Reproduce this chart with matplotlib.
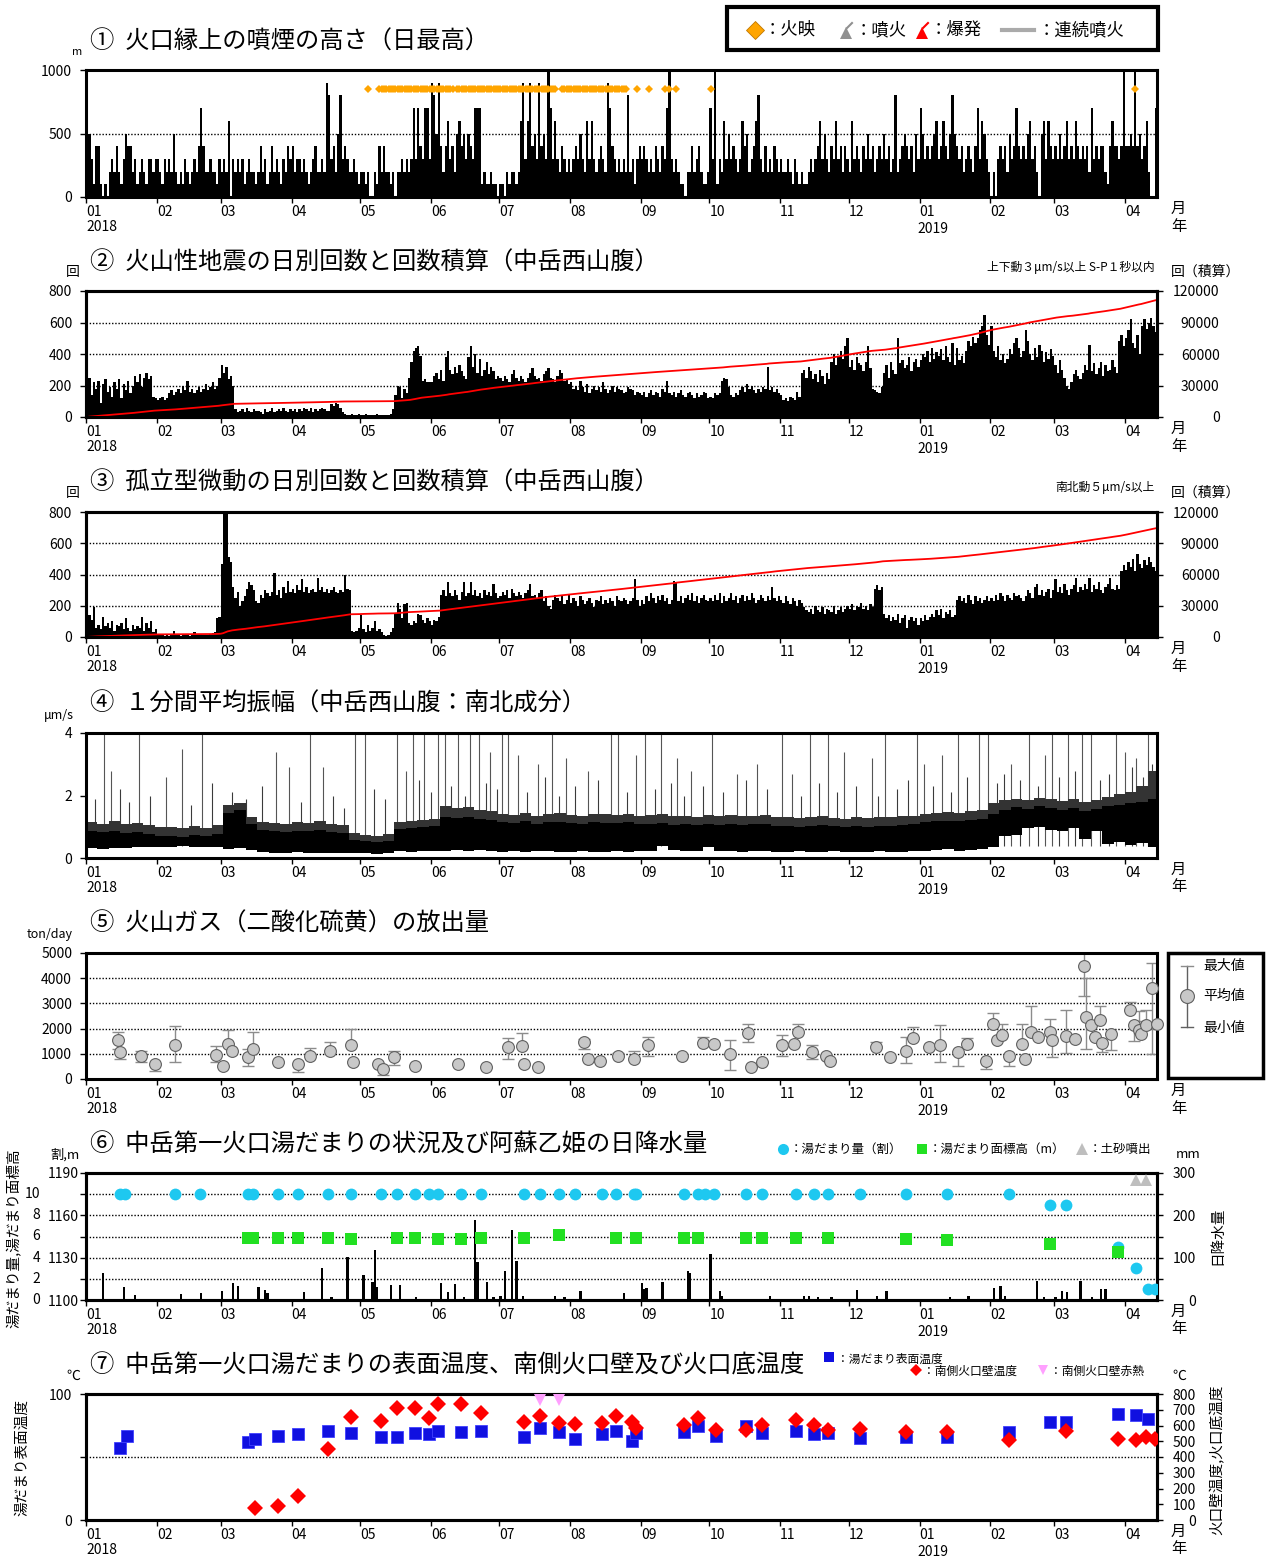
import numpy as np
import matplotlib
matplotlib.use("Agg")
import matplotlib.pyplot as plt
from matplotlib.lines import Line2D
from matplotlib.patches import Rectangle

plt.rcParams['font.family'] = ['Noto Sans CJK JP', 'DejaVu Sans']

W, H = 1272, 1559
PX_LEFT, PX_RIGHT = 86, 1157

# 横軸: 2018-01-01 からの日数
month_start = [0, 31, 59, 90, 120, 151, 181, 212, 243, 273, 304, 334, 365, 396, 424, 455]
month_label = ['01', '02', '03', '04', '05', '06', '07', '08', '09', '10', '11', '12',
               '01', '02', '03', '04']
x_end = 469

# ① 噴煙の高さ（日最高）: 1文字 = 1日, 数字 x 100 m, X = 1000 m 以上
plume_code = [
    "3531441010232421354423123213323",  # 2018-01
    "3213232521213212324742232213",     # 02
    "2326032323123221242312423213243",  # 03
    "423323212342232983425834322321",   # 04
    "2212002142422120223232373743773",  # 05
    "985942463425645354377712112110",   # 06
    "110212212693694539453X736324323",  # 07
    "2343532636323432974323232823134",  # 08
    "343232432437X32321102242342112",   # 09
    "73X1326353432364523468324232432",  # 10
    "322321321211232346353243634243",   # 11
    "2634324353423435342382345434253",  # 12
    "7534345634643585434234324736532",  # 2019-01
    "0203434253474343563420563643",     # 02
    "435346343643434273434421464434X",  # 03
    "4454X4534620076",                  # 04
]
# 火映を観測した日（開始日, 終了日）
glow_ranges = [(123, 123), (128, 160), (162, 205), (208, 236), (241, 241), (246, 246),
               (253, 253), (255, 255), (258, 258), (273, 273), (459, 459)]

# ② 火山性地震 日別回数（10回単位）
quake_tens = [
    20, 25, 14, 22, 18, 23, 9, 21, 24, 16, 19, 13, 22, 18, 24, 12, 21, 17, 23, 15, 20, 26, 22, 27, 19, 25, 28, 24, 26, 13, 12,
    11, 12, 13, 11, 12, 15, 17, 14, 16, 18, 15, 20, 17, 23, 16, 18, 15, 17, 19, 16, 18, 21, 17, 19, 22, 18, 20, 25,
    33, 28, 32, 24, 26, 20, 5, 3, 4, 5, 3, 6, 4, 3, 5, 4, 4, 3, 2, 5, 3, 4, 6, 3, 4, 5, 4, 6, 4, 3, 5,
    4, 5, 3, 5, 4, 6, 5, 4, 6, 3, 5, 4, 5, 6, 5, 4, 4, 8, 7, 9, 8, 6, 3, 2, 1, 1, 2, 1, 1, 2,
    1, 1, 2, 1, 1, 1, 1, 2, 1, 1, 1, 1, 1, 2, 5, 14, 20, 19, 12, 18, 15, 25, 35, 42, 44, 45, 39, 23, 24, 22, 22,
    22, 26, 28, 24, 30, 23, 38, 42, 30, 27, 32, 28, 33, 29, 26, 24, 38, 45, 32, 40, 28, 37, 26, 30, 35, 27, 32, 29, 24, 26,
    25, 23, 26, 24, 22, 27, 30, 25, 23, 26, 24, 22, 25, 28, 31, 26, 24, 25, 23, 27, 29, 31, 25, 24, 22, 26, 30, 28, 23, 24, 21,
    22, 18, 20, 17, 23, 19, 16, 21, 15, 18, 20, 17, 19, 16, 22, 18, 15, 17, 20, 16, 19, 18, 17, 15, 16, 19, 18, 17, 14, 16, 15,
    14, 16, 13, 15, 17, 14, 16, 15, 13, 18, 16, 23, 15, 14, 16, 13, 15, 17, 14, 13, 15, 16, 14, 12, 15, 13, 14, 16, 15, 12,
    13, 12, 15, 14, 15, 23, 25, 24, 19, 14, 13, 15, 14, 17, 19, 16, 21, 18, 20, 17, 15, 18, 16, 19, 18, 32, 17, 19, 16, 18, 15,
    14, 11, 12, 10, 13, 12, 11, 16, 13, 28, 30, 25, 32, 29, 24, 27, 22, 30, 26, 21, 28, 24, 35, 40, 33, 38, 42, 37, 45, 50,
    32, 36, 30, 38, 34, 33, 29, 35, 45, 31, 18, 17, 16, 15, 19, 28, 33, 25, 35, 30, 27, 50, 34, 36, 31, 33, 38, 29, 35, 37, 32,
    36, 40, 38, 42, 35, 44, 37, 41, 39, 43, 36, 45, 38, 35, 47, 33, 44, 36, 39, 34, 42, 48, 45, 51, 47, 50, 55, 58, 65, 52, 46,
    58, 42, 38, 45, 36, 40, 34, 37, 43, 40, 47, 50, 44, 38, 42, 55, 48, 40, 36, 44, 38, 46, 42, 35, 41, 37, 43, 39,
    33, 28, 36, 30, 25, 20, 18, 22, 27, 30, 26, 24, 28, 33, 30, 46, 29, 34, 27, 31, 35, 26, 33, 29, 30, 36, 32, 28, 48, 52, 45,
    50, 55, 62, 47, 44, 52, 40, 58, 62, 56, 60, 63, 58, 54, 45,
]

# ③ 孤立型微動 日別回数
tremor = [
    120, 140, 110, 190, 60, 80, 50, 130, 70, 90, 60, 100, 40, 80, 70, 90, 50, 120, 60, 40, 80, 50, 70, 60, 130, 40, 90, 60, 100, 30, 50,
    20, 10, 15, 5, 10, 5, 15, 40, 20, 10, 5, 10, 15, 10, 5, 10, 30, 15, 10, 20, 15, 10, 15, 20, 25, 30, 120, 130,
    470, 900, 850, 510, 480, 320, 250, 290, 200, 230, 260, 310, 350, 330, 300, 230, 220, 270, 250, 300, 280, 260, 290, 410, 270, 300, 250, 320, 280, 360, 290,
    310, 280, 330, 300, 370, 290, 320, 280, 300, 310, 290, 380, 300, 320, 290, 310, 280, 300, 320, 290, 280, 300, 290, 400, 310, 300, 40, 30, 40, 60,
    140, 50, 30, 80, 40, 60, 100, 40, 50, 30, 10, 5, 10, 30, 60, 150, 220, 180, 120, 210, 220, 90, 80, 100, 90, 150, 140, 110, 90, 120, 100,
    80, 110, 100, 130, 270, 300, 260, 350, 280, 260, 300, 270, 240, 290, 350, 260, 280, 350, 270, 300, 260, 280, 250, 300, 270, 290, 260, 340, 280, 250,
    260, 290, 270, 300, 250, 310, 280, 260, 290, 270, 250, 280, 300, 340, 260, 270, 250, 280, 300, 230, 260, 200, 180, 240, 270, 250, 230, 260, 210, 240, 270,
    220, 250, 230, 200, 260, 240, 210, 230, 250, 220, 190, 240, 230, 260, 210, 240, 220, 250, 230, 200, 260, 240, 230, 250, 240, 210, 230, 250, 370, 240, 200,
    240, 210, 260, 230, 280, 250, 220, 260, 240, 270, 230, 250, 210, 240, 360, 350, 230, 260, 220, 250, 270, 240, 280, 230, 260, 220, 250, 270, 240, 230,
    250, 230, 270, 240, 280, 220, 260, 230, 250, 280, 240, 260, 220, 250, 270, 230, 260, 240, 280, 250, 220, 240, 270, 250, 230, 260, 240, 320, 250, 230, 260,
    240, 220, 260, 230, 210, 250, 230, 200, 240, 220, 190, 170, 160, 180, 150, 200, 170, 160, 190, 150, 180, 170, 160, 200, 150, 170, 190, 160, 180, 200,
    180, 210, 170, 200, 190, 220, 180, 200, 170, 210, 190, 310, 330, 300, 320, 150, 120, 140, 100, 130, 110, 150, 90, 120, 140, 60, 110, 130, 100, 120, 80,
    120, 100, 140, 110, 130, 150, 130, 170, 140, 180, 120, 160, 150, 170, 130, 140, 240, 260, 230, 250, 220, 270, 240, 210, 260, 230, 250, 220, 240, 260, 230,
    250, 230, 270, 240, 280, 260, 230, 270, 250, 240, 280, 260, 270, 250, 230, 260, 300, 280, 250, 320, 340, 270, 300, 260, 290, 310, 250, 300,
    370, 290, 320, 280, 340, 300, 270, 310, 330, 380, 290, 320, 300, 340, 310, 380, 290, 330, 310, 350, 300, 280, 320, 340, 380, 310, 300, 330, 310, 420, 460,
    430, 480, 450, 500, 420, 530, 470, 440, 490, 460, 510, 480, 450, 420, 440,
]

# ④ 1分間平均振幅: 5日ごとの帯（下端・濃い上端・薄い上端, μm/s）と突発的な振幅
amp_low = [0.32, 0.30, 0.33, 0.31, 0.34, 0.35,
           0.36, 0.35, 0.37, 0.34, 0.36, 0.35,
           0.30, 0.31, 0.25, 0.20,
           0.17, 0.16, 0.18, 0.16, 0.17, 0.15, 0.16,
           0.16, 0.15, 0.14, 0.17,
           0.22, 0.20, 0.23, 0.22,
           0.24, 0.25, 0.23, 0.26, 0.24,
           0.20, 0.22, 0.19, 0.21, 0.23, 0.20, 0.18, 0.22, 0.20, 0.19, 0.21, 0.20,
           0.22, 0.21, 0.40, 0.25, 0.22, 0.24, 0.35, 0.23, 0.21, 0.20, 0.22, 0.21,
           0.20, 0.19, 0.21, 0.18, 0.20, 0.22, 0.19, 0.18, 0.20, 0.21, 0.19, 0.20, 0.22,
           0.22, 0.25, 0.28, 0.24, 0.27, 0.30,
           0.35, 0.70, 0.75, 0.95, 1.00, 0.90,
           0.85, 0.95, 0.62, 0.88,
           0.45, 0.50, 0.42, 0.48, 0.35]
amp_top = [0.86, 0.82, 0.88, 0.80, 0.84, 0.78,
           0.70, 0.72, 0.68, 0.74, 0.70, 0.76,
           1.45, 1.55, 1.08, 0.90,
           0.86, 0.84, 0.88, 0.86, 0.90, 0.84, 0.80,
           0.58, 0.54, 0.52, 0.56,
           0.92, 0.97, 1.00, 1.02,
           1.30, 1.28, 1.32, 1.26, 1.22,
           1.15, 1.12, 1.18, 1.10, 1.14, 1.16, 1.12, 1.10, 1.15, 1.13, 1.11, 1.14,
           1.08, 1.10, 1.12, 1.06, 1.08, 1.05, 1.10, 1.07, 1.09, 1.06, 1.08, 1.10,
           1.02, 1.04, 1.00, 1.03, 1.05, 1.01, 0.98, 1.02, 1.00, 1.04, 1.03, 1.06, 1.08,
           1.15, 1.18, 1.20, 1.17, 1.22, 1.25,
           1.40, 1.55, 1.62, 1.58, 1.66, 1.60,
           1.55, 1.60, 1.52, 1.58,
           1.65, 1.70, 1.75, 1.80, 1.90]
amp_noise = [1.15, 1.10, 1.18, 1.08, 1.12, 1.05,
             0.98, 1.00, 0.95, 1.02, 0.97, 1.05,
             1.70, 1.75, 1.30, 1.15,
             1.12, 1.10, 1.15, 1.13, 1.18, 1.10, 1.05,
             0.80, 0.75, 0.72, 0.78,
             1.15, 1.20, 1.22, 1.25,
             1.65, 1.60, 1.62, 1.55, 1.50,
             1.42, 1.38, 1.45, 1.35, 1.40, 1.43, 1.38, 1.36, 1.42, 1.40, 1.37, 1.40,
             1.35, 1.38, 1.40, 1.33, 1.36, 1.32, 1.38, 1.34, 1.37, 1.33, 1.35, 1.38,
             1.30, 1.32, 1.28, 1.31, 1.33, 1.29, 1.26, 1.30, 1.28, 1.32, 1.31, 1.34, 1.36,
             1.42, 1.45, 1.48, 1.44, 1.50, 1.55,
             1.75, 1.85, 1.90, 1.86, 1.92, 1.88,
             1.82, 1.88, 1.80, 1.85,
             1.95, 2.05, 2.10, 2.30, 2.80]
spike_day = [8, 11, 23, 35, 42, 51, 83, 89, 98, 104, 118, 122, 136, 140, 143, 148, 154, 157, 163, 168,
             172, 177, 182, 185, 189, 198, 204, 210, 220, 230, 233, 241, 245, 252, 259, 265, 274, 285, 294,
             305, 309, 317, 325, 332, 344, 350, 364, 367, 375, 382, 391, 395, 405, 413, 420, 423, 430, 436,
             440, 451, 455, 460, 465]
spike_amp = [4.5, 2.8, 4.5, 2.6, 3.5, 4.5, 3.4, 2.9, 4.5, 2.9, 4.5, 4.5, 4.5, 2.8, 4.5, 4.5, 4.5, 4.5, 4.5, 4.5,
             4.5, 3.4, 4.5, 4.5, 3.3, 3.0, 4.5, 3.2, 2.8, 4.5, 4.5, 3.3, 4.5, 4.5, 3.2, 2.8, 4.5, 2.7, 3.0,
             4.5, 2.7, 4.5, 4.5, 3.4, 3.2, 4.5, 4.5, 3.0, 3.3, 4.5, 4.5, 4.5, 3.0, 4.5, 3.3, 4.5, 4.5, 4.5,
             4.5, 4.5, 3.4, 3.2, 4.5]
# 中程度の突発振幅
bump_day = [4, 15, 19, 28, 46, 55, 64, 70, 77, 94, 108, 113, 126, 131, 146, 151, 160, 166, 175, 180,
            193, 201, 207, 214, 224, 237, 249, 256, 262, 270, 279, 289, 298, 313, 321, 329, 337, 347,
            355, 360, 371, 379, 386, 399, 402, 409, 417, 426, 433, 444, 448, 458, 463, 467]
bump_amp = [1.9, 2.2, 1.8, 2.0, 1.7, 2.4, 2.1, 1.9, 2.3, 1.8, 2.0, 1.6, 2.2, 1.9, 2.5, 2.1, 2.3, 2.0, 2.4, 2.2,
            2.1, 2.6, 2.0, 2.3, 2.5, 2.1, 2.2, 2.4, 2.0, 2.3, 2.1, 2.5, 2.2, 2.0, 2.4, 2.1, 2.3, 2.0,
            2.2, 2.5, 2.3, 2.1, 2.6, 2.4, 2.7, 2.5, 2.3, 2.6, 2.8, 2.5, 2.7, 2.9, 2.6, 3.0]

# ⑤ 二酸化硫黄放出量 (ton/day): 平均値・最大値・最小値（None は幅なし）
so2_day = [14, 15, 24, 30, 39, 57, 60, 62, 64, 71, 73, 84, 93, 98, 107, 116, 117, 128, 130, 135,
           144, 163, 175, 185, 191, 192, 198, 218, 220, 225, 233, 240, 246, 261, 270, 275, 282, 290,
           291, 296, 305, 310, 312, 318, 324, 326, 346, 352, 359, 362, 369, 374, 382, 386, 394, 397,
           399, 401, 404, 410, 411, 414, 417, 422, 423, 429, 433, 437, 438, 440, 442, 444, 445, 449,
           457, 459, 461, 462, 464, 467, 469]
so2_mean = [1530, 1070, 900, 600, 1330, 970, 500, 1400, 1130, 870, 1200, 670, 600, 930, 1130, 1330, 670, 600, 400, 870,
            530, 600, 470, 1270, 1300, 600, 470, 1470, 800, 730, 930, 800, 1330, 900, 1430, 1370, 1000, 1830,
            470, 670, 1330, 1370, 1870, 1070, 930, 730, 1270, 870, 1130, 1640, 1270, 1330, 1070, 1370, 730, 2200,
            1530, 1730, 900, 1400, 800, 1870, 1670, 1870, 1530, 1700, 1600, 4500, 2470, 2130, 1670, 2360, 1430, 1770,
            2730, 2130, 1930, 1800, 2130, 3600, 2200]
so2_max = [1870, None, 1130, None, 2100, 1300, None, 1930, None, 1200, 1870, None, None, 1240, 1470, 1970, None, None, None, 1110,
           None, None, None, 1630, 1830, None, None, 1600, None, None, 1050, 1100, 1670, None, 1670, None, 1530, 2200,
           None, None, 1760, None, 2200, 1330, None, None, 1470, None, 1670, 2070, None, 2130, None, 1630, None, 2600,
           None, 2200, None, 2170, None, 2900, None, 2400, None, 2730, None, 5000, 4000, None, None, 2900, None, None,
           3050, None, 2700, 2300, 2750, 4600, None]
so2_min = [1200, 800, 670, 330, 670, 670, None, None, None, 530, None, None, 270, None, None, None, None, None, 170, 570,
           None, None, None, 800, None, None, None, 1200, None, None, None, None, 900, None, None, None, 360, 1470,
           None, None, 900, None, None, 800, None, None, None, None, 630, None, None, 670, 530, None, 400, None,
           None, None, 500, None, None, None, None, None, 870, 1050, None, 3300, 1200, None, None, None, 1070, 1150,
           None, 1500, None, None, None, 1000, None]

# ⑥ 湯だまり量（割）・湯だまり面標高（m）・日降水量（mm）
pool_day = [15, 17, 39, 50, 71, 73, 84, 93, 106, 116, 129, 136, 144, 150, 154, 164, 173, 192, 199, 207,
            214, 226, 232, 240, 241, 262, 268, 271, 275, 289, 296, 311, 319, 325, 339, 359, 377, 404,
            422, 429, 452, 460, 465, 468]
pool_wari = [10, 10, 10, 10, 10, 10, 10, 10, 10, 10, 10, 10, 10, 10, 10, 10, 10, 10, 10, 10,
             10, 10, 10, 10, 10, 10, 10, 10, 10, 10, 10, 10, 10, 10, 10, 10, 10, 10,
             9, 9, 5, 3, 1, 1]
level_day = [71, 73, 84, 93, 106, 116, 136, 144, 154, 164, 173, 192, 207, 232, 241, 262, 268, 289,
             296, 311, 325, 359, 377, 422, 452]
level_m = [1144, 1144, 1144, 1144, 1144, 1143, 1144, 1144, 1143, 1143, 1144, 1144, 1146, 1144, 1144,
           1144, 1144, 1144, 1144, 1144, 1144, 1143.5, 1142.5, 1140, 1134]
mud_day = [460, 464]
rain_day = [7, 16, 21, 41, 50, 59, 64, 66, 75, 78, 79, 95, 103, 107, 114, 121, 125, 126, 127, 133,
            137, 144, 155, 158, 161, 165, 170, 171, 175, 178, 181, 183, 186, 188, 191, 205, 209, 216, 235, 243,
            244, 245, 252, 263, 264, 273, 277, 278, 299, 314, 316, 320, 326, 337, 346, 350, 378, 386, 397, 400,
            402, 416, 419, 424, 427, 429, 435, 440, 444, 446]
rain_mm = [63, 30, 12, 13, 16, 22, 39, 32, 30, 24, 16, 20, 76, 8, 101, 58, 43, 117, 30, 36,
           36, 6, 39, 18, 38, 8, 188, 89, 42, 6, 10, 69, 166, 93, 10, 10, 6, 22, 17, 39,
           26, 28, 42, 68, 64, 109, 22, 10, 10, 10, 10, 6, 6, 24, 10, 22, 6, 10, 28, 34,
           10, 46, 6, 8, 22, 20, 44, 6, 26, 26]

# ⑦ 湯だまり表面温度（℃）・南側火口壁温度（℃）・赤熱
surf_day = [15, 18, 71, 74, 84, 93, 106, 116, 129, 136, 144, 150, 154, 164, 173, 192, 199, 207, 214, 226,
            232, 239, 241, 262, 268, 276, 289, 296, 311, 319, 325, 339, 359, 377, 404, 422, 429, 452, 460, 465]
surf_temp = [57, 67, 62, 64, 67, 68, 71, 69, 66, 66, 69, 68, 71, 70, 71, 66, 73, 70, 64, 68,
             71, 63, 69, 70, 75, 67, 75, 69, 71, 68, 69, 65, 66, 66, 70, 78, 78, 84, 83, 80]
wall_day = [74, 84, 93, 106, 116, 129, 136, 144, 150, 154, 164, 173, 192, 199, 207, 214, 226, 232, 239,
            241, 262, 268, 276, 289, 296, 311, 319, 325, 339, 359, 377, 404, 429, 452, 460, 464, 468]
wall_temp = [79, 90, 154, 449, 652, 629, 710, 714, 650, 736, 736, 678, 620, 663, 614, 607, 614, 661, 620,
             586, 603, 646, 571, 571, 603, 635, 603, 571, 578, 556, 556, 507, 565, 513, 507, 528, 513]
glowwall_day = [199, 207]

fig = plt.figure(figsize=(W / 100, H / 100), dpi=100)


def fpos(x, y):
    return x / W, 1 - y / H


def ftext(x, y, s, **kw):
    fx, fy = fpos(x, y)
    fig.text(fx, fy, s, **kw)


def fmark(x, y, **kw):
    fx, fy = fpos(x, y)
    fig.add_artist(Line2D([fx], [fy], transform=fig.transFigure, **kw))


def fline(xs, ys, **kw):
    p = [fpos(a, b) for a, b in zip(xs, ys)]
    fig.add_artist(Line2D([q[0] for q in p], [q[1] for q in p], transform=fig.transFigure, **kw))


def fbox(x0, y0, x1, y1, lw=2.5):
    fx, fy = fpos(x0, y1)
    fig.add_artist(Rectangle((fx, fy), (x1 - x0) / W, (y1 - y0) / H, transform=fig.transFigure,
                             fill=False, lw=lw, ec='k'))


def dotted(ax, vals):
    for v in vals:
        ax.axhline(v, color='k', ls=(0, (1, 1.3)), lw=1.0, zorder=0.5)


TICK = 10


def make_ax(top, bottom, ypad=6):
    ax = fig.add_axes([PX_LEFT / W, 1 - bottom / H, (PX_RIGHT - PX_LEFT) / W, (bottom - top) / H])
    ax.set_xlim(0, x_end)
    ax.set_xticks(month_start)
    ax.set_xticklabels(month_label, ha='left')
    ax.tick_params(axis='x', length=4, width=1, labelsize=TICK, pad=1.5)
    ax.tick_params(axis='y', length=4, width=1, labelsize=TICK, pad=ypad)
    for sp in ax.spines.values():
        sp.set_linewidth(2.2)
    ax.annotate('2018', xy=(0, 0), xycoords=('data', 'axes fraction'), xytext=(0, -30),
                textcoords='offset pixels', fontsize=TICK, va='center', ha='left')
    ax.annotate('2019', xy=(365, 0), xycoords=('data', 'axes fraction'), xytext=(-2, -32),
                textcoords='offset pixels', fontsize=TICK, va='center', ha='left')
    ax.annotate('月', xy=(1, 0), xycoords='axes fraction', xytext=(14, -11),
                textcoords='offset pixels', fontsize=11, va='center', ha='left')
    ax.annotate('年', xy=(1, 0), xycoords='axes fraction', xytext=(14, -29),
                textcoords='offset pixels', fontsize=11, va='center', ha='left')
    return ax


def right_axis(ax, ylim, ticks, pad):
    axr = ax.twinx()
    axr.set_ylim(*ylim)
    axr.set_yticks(ticks)
    axr.tick_params(axis='y', length=4, width=1, labelsize=TICK, pad=pad)
    for lbl in axr.get_yticklabels():
        lbl.set_ha('right')
    for sp in axr.spines.values():
        sp.set_linewidth(2.2)
    return axr


TITLE = 17.5

# ---- ① 噴煙 ----
plume_m = [100 * (10 if c == 'X' else int(c)) for s in plume_code for c in s]
ax1 = make_ax(70, 197)
ax1.bar(np.arange(len(plume_m)), plume_m, width=1.0, align='edge', color='k', lw=0)
glow_days = [d for a, b in glow_ranges for d in range(a, b + 1)]
ax1.plot(np.array(glow_days) + 0.5, [850] * len(glow_days), 'D', color='#FFA500', ms=4.5, mew=0)
ax1.set_ylim(0, 1000)
ax1.set_yticks([0, 500, 1000])
dotted(ax1, [500])
ftext(90, 42, '①  火口縁上の噴煙の高さ（日最高）', fontsize=TITLE, va='center')
ftext(72, 52, 'm', fontsize=8, va='center')

fbox(727, 7, 1158, 50, lw=3)
fmark(755, 30, marker='D', color='#FFA500', ms=9, mec='#C07800', mew=0.6)
ftext(764, 30, '：火映', fontsize=12.5, va='center')
fmark(846, 33, marker='^', color='#909090', ms=8, mew=0)
fline([847, 852], [28, 23], color='#909090', lw=1.5)
ftext(855, 30, '：噴火', fontsize=12.5, va='center')
fmark(922, 33, marker='^', color='#FF0000', ms=8, mew=0)
fline([923, 928], [28, 23], color='#FF0000', lw=1.5)
ftext(930, 30, '：爆発', fontsize=12.5, va='center')
fline([1002, 1034], [30, 30], color='#AAAAAA', lw=3)
ftext(1038, 30, '：連続噴火', fontsize=12.5, va='center')

# ---- ② 火山性地震 ----
quake = np.array(quake_tens) * 10
ax2 = make_ax(291, 417)
ax2.bar(np.arange(len(quake)), quake, width=1.0, align='edge', color='k', lw=0)
ax2.set_ylim(0, 800)
ax2.set_yticks([0, 200, 400, 600, 800])
dotted(ax2, [200, 400, 600])
ax2r = right_axis(ax2, (0, 120000), [0, 30000, 60000, 90000, 120000], 41)
ax2r.plot(np.arange(len(quake)) + 1, np.cumsum(quake), color='#FF0000', lw=1.3)
ftext(90, 263, '②  火山性地震の日別回数と回数積算（中岳西山腹）', fontsize=TITLE, va='center')
ftext(66, 272, '回', fontsize=10, va='center')
ftext(1155, 267, '上下動３μm/s以上 S-P１秒以内', fontsize=8.5, va='center', ha='right')
ftext(1171, 272, '回（積算）', fontsize=10, va='center')

# ---- ③ 孤立型微動 ----
tr = np.array(tremor)
ax3 = make_ax(512, 637)
ax3.bar(np.arange(len(tr)), tr, width=1.0, align='edge', color='k', lw=0)
ax3.set_ylim(0, 800)
ax3.set_yticks([0, 200, 400, 600, 800])
dotted(ax3, [200, 400, 600])
ax3r = right_axis(ax3, (0, 120000), [0, 30000, 60000, 90000, 120000], 41)
ax3r.plot(np.arange(len(tr)) + 1, np.cumsum(tr), color='#FF0000', lw=1.3)
ftext(90, 483, '③  孤立型微動の日別回数と回数積算（中岳西山腹）', fontsize=TITLE, va='center')
ftext(66, 493, '回', fontsize=10, va='center')
ftext(1155, 487, '南北動５μm/s以上', fontsize=8.5, va='center', ha='right')
ftext(1171, 493, '回（積算）', fontsize=10, va='center')

# ---- ④ 1分間平均振幅 ----
ax4 = make_ax(733, 858)
edges = np.arange(0, 5 * len(amp_top) + 1, 5)
ax4.vlines(spike_day, 0.4, spike_amp, color='#555555', lw=0.8, zorder=1)
ax4.vlines(bump_day, 0.4, bump_amp, color='#3a3a3a', lw=0.8, zorder=1)
ax4.stairs(amp_noise, edges, baseline=amp_top, fill=True, color='#333333', zorder=2)
ax4.stairs(amp_top, edges, baseline=amp_low, fill=True, color='k', zorder=3)
ax4.set_ylim(0, 4)
ax4.set_yticks([0, 2, 4])
ftext(90, 704, '④  １分間平均振幅（中岳西山腹：南北成分）', fontsize=TITLE, va='center')
ftext(44, 715, 'μm/s', fontsize=9, va='center')

# ---- ⑤ 火山ガス ----
ax5 = make_ax(953, 1079)
m = np.array(so2_mean, float)
hi = np.array([v if v is not None else mm for v, mm in zip(so2_max, so2_mean)], float)
lo = np.array([v if v is not None else mm for v, mm in zip(so2_min, so2_mean)], float)
ax5.errorbar(so2_day, m, yerr=[m - lo, hi - m], fmt='none', ecolor='#8c8c8c', elinewidth=1,
             capsize=4, capthick=1, zorder=2)
ax5.plot(so2_day, m, 'o', mfc='#C8C8C8', mec='#606060', mew=0.8, ms=8.5, zorder=3, clip_on=False)
ax5.set_ylim(0, 5000)
ax5.set_yticks([0, 1000, 2000, 3000, 4000, 5000])
dotted(ax5, [1000, 2000, 3000, 4000])
ftext(90, 924, '⑤  火山ガス（二酸化硫黄）の放出量', fontsize=TITLE, va='center')
ftext(27, 934, 'ton/day', fontsize=9, va='center')
fbox(1168, 953, 1263, 1078, lw=2.5)
fline([1187, 1187], [966, 1027], color='#606060', lw=1)
fline([1181, 1193], [966, 966], color='#8c8c8c', lw=1)
fline([1181, 1193], [1027, 1027], color='#606060', lw=1)
fmark(1187, 996, marker='o', mfc='#C8C8C8', mec='#606060', mew=0.8, ms=10)
ftext(1203, 966, '最大値', fontsize=10, va='center')
ftext(1203, 996, '平均値', fontsize=10, va='center')
ftext(1203, 1028, '最小値', fontsize=10, va='center')

# ---- ⑥ 湯だまり ----
ax6 = make_ax(1173, 1300, ypad=1.5)
ax6r = right_axis(ax6, (0, 300), [0, 100, 200, 300], 24)
ax6r.set_yticks([50, 150, 250], minor=True)
ax6r.tick_params(axis='y', which='minor', length=4, width=1)
ax6r.bar(rain_day, rain_mm, width=1.0, align='edge', color='k', lw=0)
ax6.set_zorder(ax6r.get_zorder() + 1)
ax6.patch.set_visible(False)
ax6.set_ylim(1100, 1190)
ax6.set_yticks([1100, 1130, 1160, 1190])
ax6.set_yticks([1115, 1145, 1175], minor=True)
ax6.tick_params(axis='y', which='minor', length=4, width=1)
dotted(ax6, [1115, 1130, 1145, 1160, 1175])
for k in [0, 2, 4, 6, 8, 10]:
    ax6.annotate(str(k), xy=(0, 1100 + 7.5 * k), xycoords=('axes fraction', 'data'),
                 xytext=(-46, 0), textcoords='offset pixels', fontsize=TICK, va='center', ha='right')
ax6.plot(pool_day, 1100 + 7.5 * np.array(pool_wari), 'o', color='#1EC8F0', ms=8.5, mew=0, zorder=4)
ax6.plot(level_day, level_m, 's', color='#22E022', ms=8, mew=0, zorder=5)
ax6.plot(mud_day, [1185] * len(mud_day), '^', color='#BEBEBE', ms=8, mew=0, zorder=5)
ftext(90, 1145, '⑥  中岳第一火口湯だまりの状況及び阿蘇乙姫の日降水量', fontsize=TITLE, va='center')
ftext(50, 1155, '割,m', fontsize=9.5, va='center')
ftext(1176, 1155, 'mm', fontsize=9.5, va='center')
ftext(14, 1238, '湯だまり量,湯だまり面標高', fontsize=10.5, rotation=90, va='center', ha='center')
ftext(1217, 1236, '日降水量', fontsize=10.5, rotation=90, va='center', ha='center')
fmark(783, 1149, marker='o', color='#1EC8F0', ms=8, mew=0)
ftext(790, 1149, '：湯だまり量（割）', fontsize=9, va='center')
fmark(922, 1149, marker='s', color='#22E022', ms=7, mew=0)
ftext(929, 1149, '：湯だまり面標高（m）', fontsize=9, va='center')
fmark(1082, 1149, marker='^', color='#BEBEBE', ms=8, mew=0)
ftext(1089, 1149, '：土砂噴出', fontsize=9, va='center')

# ---- ⑦ 温度 ----
ax7 = make_ax(1394, 1520)
ax7.set_ylim(0, 100)
ax7.set_yticks([0, 100])
ax7.set_yticks([50], minor=True)
ax7.tick_params(axis='y', which='minor', length=4, width=1)
dotted(ax7, [50])
ax7.plot(surf_day, surf_temp, 's', color='#1010E0', mec='#4040FF', mew=0.6, ms=8.5, zorder=3)
ax7r = right_axis(ax7, (0, 800), [0, 100, 200, 300, 400, 500, 600, 700, 800], 24)
ax7r.plot(wall_day, wall_temp, 'D', color='#FF0000', ms=8, mew=0, zorder=3)
ax7r.plot(glowwall_day, [760] * len(glowwall_day), 'v', color='#FFA0FF', ms=8, mew=0, zorder=3)
ftext(90, 1366, '⑦  中岳第一火口湯だまりの表面温度、南側火口壁及び火口底温度', fontsize=TITLE, va='center')
ftext(66, 1376, '℃', fontsize=10, va='center')
ftext(1172, 1376, '℃', fontsize=10, va='center')
ftext(22, 1458, '湯だまり表面温度', fontsize=10.5, rotation=90, va='center', ha='center')
ftext(1217, 1460, '火口壁温度,火口底温度', fontsize=10.5, rotation=90, va='center', ha='center')
fmark(829, 1357, marker='s', color='#1010E0', ms=7, mew=0)
ftext(837, 1359, '：湯だまり表面温度', fontsize=8.5, va='center')
fmark(916, 1370, marker='D', color='#FF0000', ms=6.5, mew=0)
ftext(923, 1371, '：南側火口壁温度', fontsize=8.5, va='center')
fmark(1043, 1370, marker='v', color='#FFA0FF', ms=7, mew=0)
ftext(1050, 1371, '：南側火口壁赤熱', fontsize=8.5, va='center')

fig.savefig('out.png', dpi=100)
